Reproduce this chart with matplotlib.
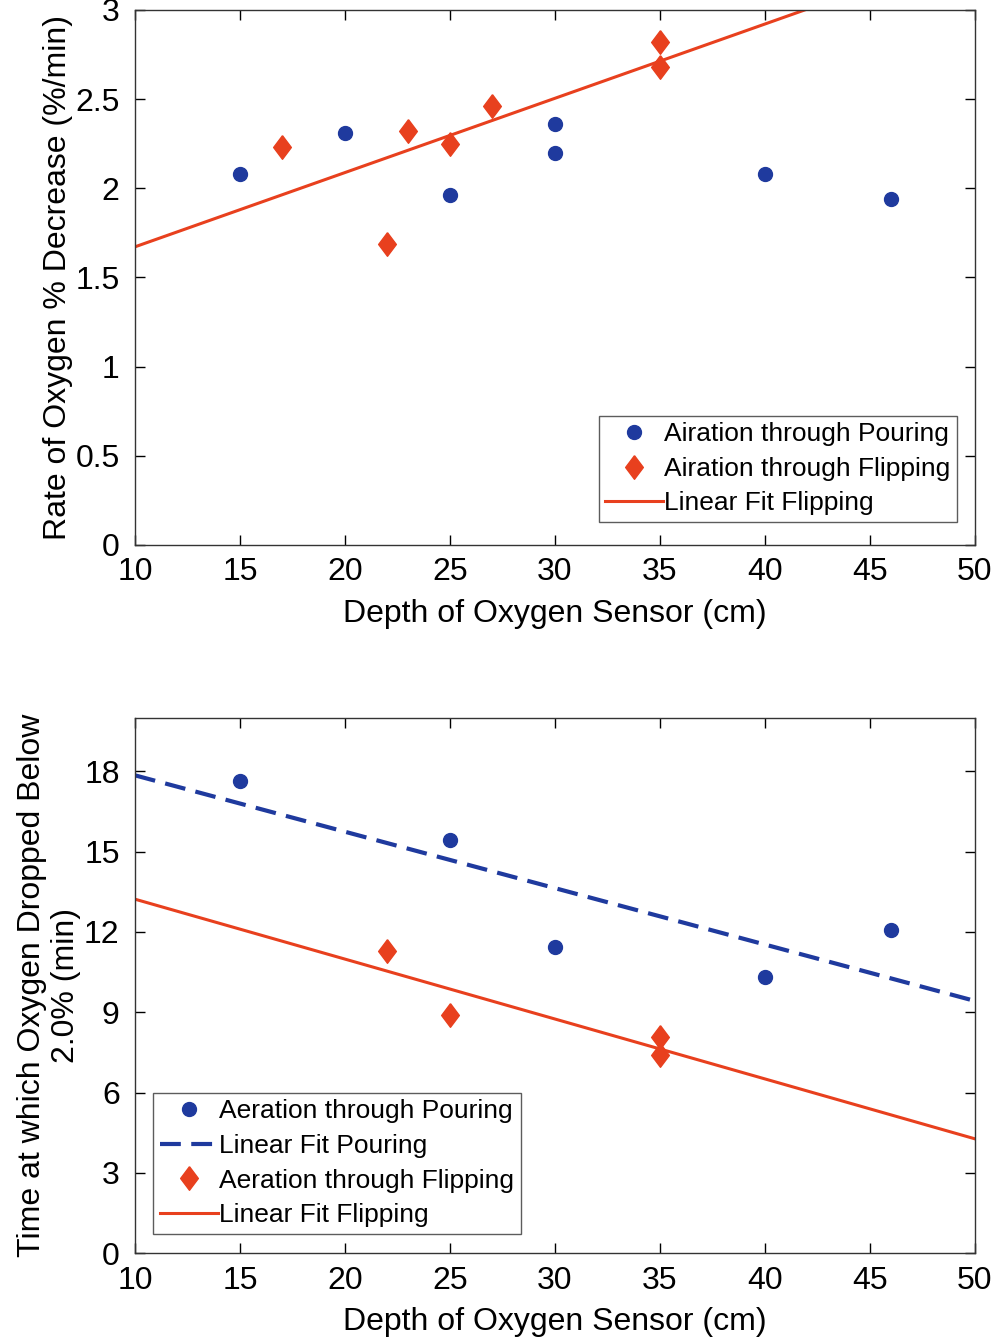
import matplotlib
matplotlib.use("Agg")
import matplotlib.pyplot as plt
import numpy as np

plt.rcParams['font.family'] = ['Liberation Sans', 'DejaVu Sans']

BLUE = '#1f3a9e'
RED = '#e8401e'
# slightly squashed diamond marker
DIAMOND = [(0, 1), (0.75, 0), (0, -1), (-0.75, 0), (0, 1)]

# rate of O2 decrease vs sensor depth
rate_pour_depth = [15, 20, 25, 30, 30, 40, 46]
rate_pour = [2.08, 2.31, 1.96, 2.36, 2.20, 2.08, 1.94]
rate_flip_depth = [17, 22, 23, 25, 27, 35, 35]
rate_flip = [2.23, 1.69, 2.32, 2.25, 2.46, 2.82, 2.68]

# time until O2 dropped below 2.0 %
time_pour_depth = [15, 25, 30, 40, 46]
time_pour = [17.66, 15.45, 11.44, 10.31, 12.07]
time_flip_depth = [22, 25, 35, 35]
time_flip = [11.29, 8.89, 8.06, 7.42]

xfit = np.array([10, 50])

fig = plt.figure(figsize=(9.97, 13.43), dpi=100)
ax1 = fig.add_axes([0.1354, 0.5942, 0.8425, 0.3984])
ax2 = fig.add_axes([0.1354, 0.0670, 0.8425, 0.3984])


def style(ax):
    ax.tick_params(direction='in', top=True, right=True, labelsize=23, length=7, width=1)
    ax.tick_params(axis='x', pad=9)
    ax.tick_params(axis='y', pad=11)
    for s in ax.spines.values():
        s.set_linewidth(1.0)
        s.set_color('#333333')
    ax.set_xlim(10, 50)
    ax.set_xticks(range(10, 51, 5))
    ax.set_xlabel('Depth of Oxygen Sensor (cm)', fontsize=23, labelpad=8)


def legend(ax, **kw):
    leg = ax.legend(fontsize=19, handlelength=2.2, handletextpad=0.05,
                    borderpad=0.25, labelspacing=0.4, fancybox=False,
                    edgecolor='#333333', borderaxespad=0, **kw)
    leg.get_frame().set_linewidth(1.0)


#---------------------------------------------------------------------
ax1.plot(rate_pour_depth, rate_pour, 'o', color=BLUE, ms=10, label='Airation through Pouring')
ax1.plot(rate_flip_depth, rate_flip, marker=DIAMOND, ls='none', color=RED, ms=17,
         label='Airation through Flipping')
p = np.polyfit(rate_flip_depth, rate_flip, 1)
ax1.plot(xfit, np.polyval(p, xfit), '-', color=RED, lw=2.2, label='Linear Fit Flipping')
style(ax1)
ax1.set_ylim(0, 3)
ax1.set_yticks([0, 0.5, 1, 1.5, 2, 2.5, 3])
ax1.set_yticklabels(['0', '0.5', '1', '1.5', '2', '2.5', '3'])
ax1.set_ylabel('Rate of Oxygen % Decrease (%/min)', fontsize=23, labelpad=2)
legend(ax1, loc='lower right', bbox_to_anchor=(0.979, 0.043))

#---------------------------------------------------------------------
ax2.plot(time_pour_depth, time_pour, 'o', color=BLUE, ms=10, label='Aeration through Pouring')
p = np.polyfit(time_pour_depth, time_pour, 1)
ax2.plot(xfit, np.polyval(p, xfit), '--', color=BLUE, lw=3, dashes=(5, 2.5), label='Linear Fit Pouring')
ax2.plot(time_flip_depth, time_flip, marker=DIAMOND, ls='none', color=RED, ms=17,
         label='Aeration through Flipping')
p = np.polyfit(time_flip_depth, time_flip, 1)
ax2.plot(xfit, np.polyval(p, xfit), '-', color=RED, lw=2.2, label='Linear Fit Flipping')
style(ax2)
ax2.set_ylim(0, 20)
ax2.set_yticks(range(0, 19, 3))
ax2.set_ylabel('Time at which Oxygen Dropped Below\n2.0% (min)', fontsize=23, labelpad=2)
legend(ax2, loc='lower left', bbox_to_anchor=(0.022, 0.036))

fig.savefig('out.png', dpi=100)
